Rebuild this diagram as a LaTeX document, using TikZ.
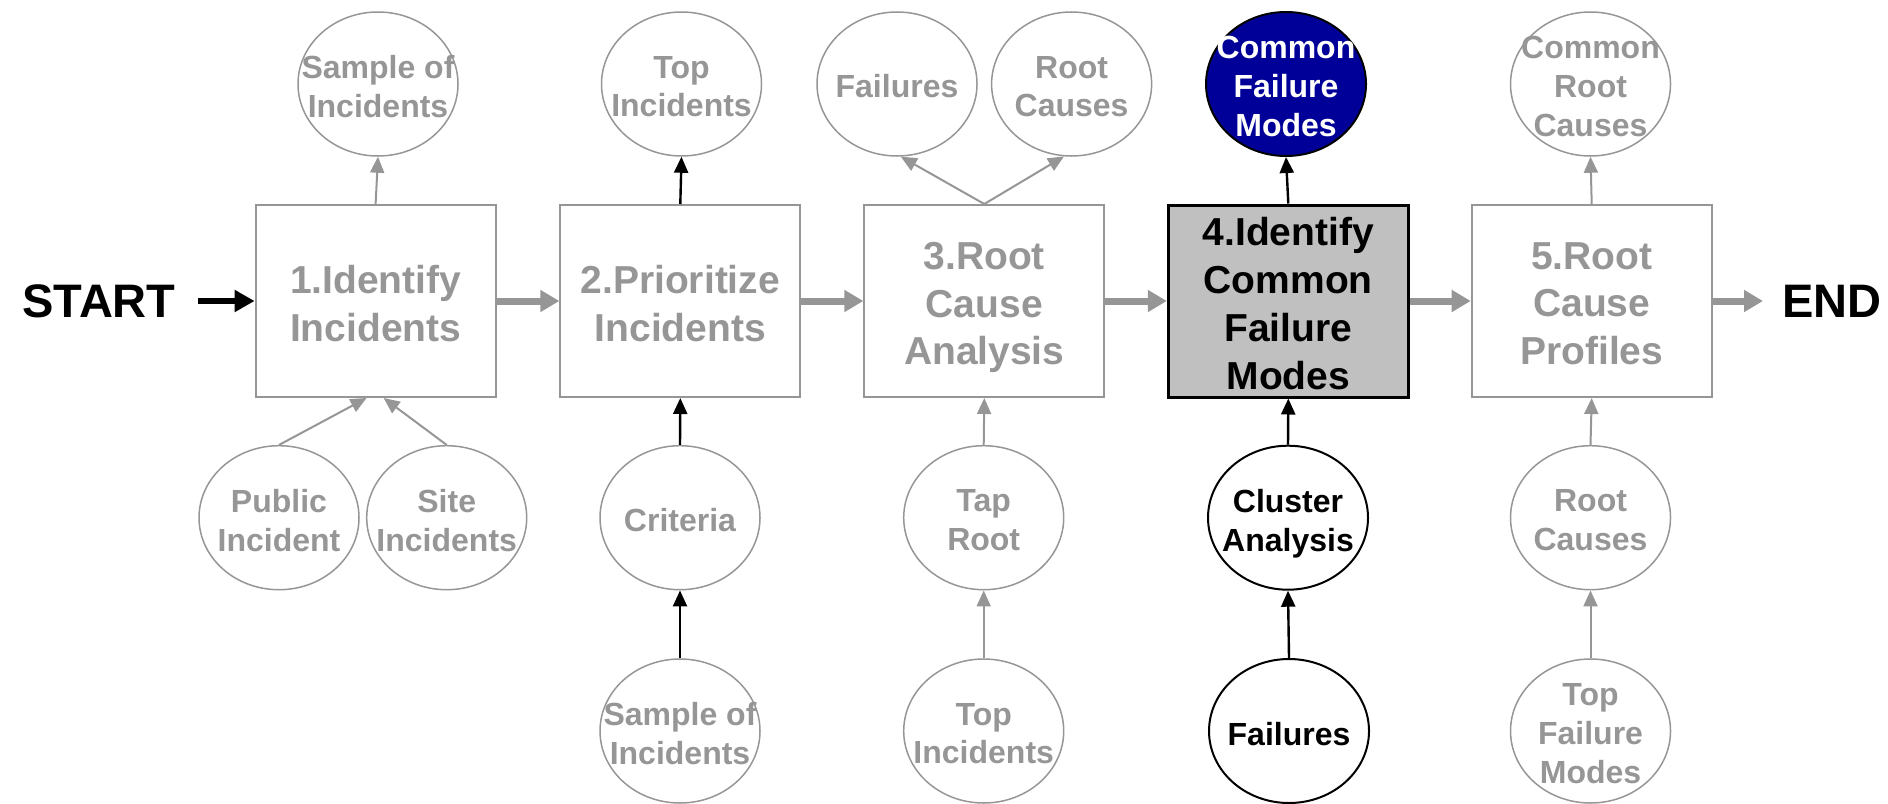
\documentclass[tikz,border=0pt]{standalone}
\usepackage{fontspec}
\setmainfont{Liberation Sans}
\usetikzlibrary{shapes.geometric,arrows.meta}
\definecolor{gr}{RGB}{150,150,150}
\definecolor{navyfill}{RGB}{0,0,153}
\definecolor{boxgrey}{RGB}{192,192,192}
\begin{document}
\begin{tikzpicture}[x=0.5pt,y=-0.5pt,
  box/.style={draw=gr, line width=1pt, minimum width=120pt, minimum height=96pt, inner sep=0pt},
  hbox/.style={box, draw=black, line width=1.5pt, fill=boxgrey},
  btxt/.style={align=center, text=gr, inner sep=0pt, text depth=0pt, yshift=-1.2pt,
    font=\bfseries\fontsize{19.5}{23.9}\selectfont},
  hbtxt/.style={btxt, text=black},
  ell/.style={ellipse, draw=gr, line width=0.75pt, minimum width=80pt, minimum height=72pt, inner sep=0pt},
  bell/.style={ell, draw=black, line width=1pt},
  nell/.style={ell, draw=black, line width=1pt, fill=navyfill},
  elab/.style={align=center, text=gr, inner sep=0pt, text depth=0pt, yshift=-1.2pt,
    font=\bfseries\fontsize{16}{19.3}\selectfont},
  belab/.style={elab, text=black},
  welab/.style={elab, text=white},
  endtxt/.style={inner sep=0pt, font=\bfseries\fontsize{23.5}{28}\selectfont},
  flow/.style={draw=gr, line width=3.5pt, -{Triangle[length=9.5pt,width=10.5pt]}},
  startarr/.style={draw=black, line width=2.7pt, -{Triangle[length=10pt,width=10.5pt]}},
  garr/.style={draw=gr, line width=1pt, -{Triangle[length=8pt,width=7pt]}},
  karr/.style={draw=black, line width=1.2pt, -{Triangle[length=8pt,width=7pt]}}
]
\useasboundingbox (0,0) rectangle (1888,803);

% main row
\node[endtxt] (start) at (99,301) {START};
\node[box, label={[btxt]center:{1.Identify\\Incidents}}] (b1) at (375.6,301) {};
\node[box, label={[btxt]center:{2.Prioritize\\Incidents}}] (b2) at (680.3,301) {};
\node[box, label={[btxt]center:{3.Root\\Cause\\Analysis}}] (b3) at (984.3,301) {};
\node[hbox, label={[hbtxt]center:{4.Identify\\Common\\Failure\\Modes}}] (b4) at (1288.3,301) {};
\node[box, label={[btxt]center:{5.Root\\Cause\\Profiles}}] (b5) at (1591.7,301) {};
\node[endtxt] (end) at (1832,301) {END};

% top ellipses
\node[ell, label={[elab]center:{Sample of\\Incidents}}] (t1) at (378,84) {};
\node[ell, label={[elab]center:{Top\\Incidents}}] (t2) at (681.5,84) {};
\node[ell, label={[elab]center:{Failures}}] (t3a) at (897,84) {};
\node[ell, label={[elab]center:{Root\\Causes}}] (t3b) at (1071.6,84) {};
\node[nell, label={[welab]center:{Common\\Failure\\Modes}}] (t4) at (1286,84) {};
\node[ell, label={[elab]center:{Common\\Root\\Causes}}] (t5) at (1590.5,84) {};

% bottom row 1
\node[ell, label={[elab]center:{Public\\Incident}}] (p1) at (279,517.7) {};
\node[ell, label={[elab]center:{Site\\Incidents}}] (s1) at (446.7,517.7) {};
\node[ell, label={[elab]center:{Criteria}}] (c2) at (680,517.7) {};
\node[ell, label={[elab]center:{Tap\\Root}}] (r3) at (983.7,517.7) {};
\node[bell, label={[belab]center:{Cluster\\Analysis}}] (c4) at (1288,517.7) {};
\node[ell, label={[elab]center:{Root\\Causes}}] (r5) at (1590.5,517.7) {};

% bottom row 2
\node[ell, label={[elab]center:{Sample of\\Incidents}}] (q2) at (680,731) {};
\node[ell, label={[elab]center:{Top\\Incidents}}] (q3) at (983.7,731) {};
\node[bell, label={[belab]center:{Failures}}] (q4) at (1289,731) {};
\node[ell, label={[elab]center:{Top\\Failure\\Modes}}] (q5) at (1590.5,731) {};

% flow arrows
\draw[startarr, shorten <=11pt] (start.east) -- (b1.west);
\draw[flow] (b1.east) -- (b2.west);
\draw[flow] (b2.east) -- (b3.west);
\draw[flow] (b3.east) -- (b4.west);
\draw[flow] (b4.east) -- (b5.west);
\draw[flow, shorten >=9.5pt] (b5.east) -- (end.west);

% step 1
\draw[garr] (b1.north) -- (t1.south);
\draw[garr] (p1.north) -- ([xshift=-4.5pt]b1.south);
\draw[garr] (s1.north) -- ([xshift=4pt]b1.south);
% step 2
\draw[karr] (b2.north) -- (t2.south);
\draw[karr] (c2.north) -- (b2.south);
\draw[karr] (q2.north) -- (c2.south);
% step 3
\draw[garr] (b3.north) -- (t3a.-87);
\draw[garr] (b3.north) -- (t3b.-96);
\draw[garr] (r3.north) -- (b3.south);
\draw[garr] (q3.north) -- (r3.south);
% step 4
\draw[karr] (b4.north) -- (t4.south);
\draw[karr] (c4.north) -- (b4.south);
\draw[karr] (q4.north) -- (c4.south);
% step 5
\draw[garr] (b5.north) -- (t5.south);
\draw[garr] (r5.north) -- (b5.south);
\draw[garr] (q5.north) -- (r5.south);
\end{tikzpicture}
\end{document}
